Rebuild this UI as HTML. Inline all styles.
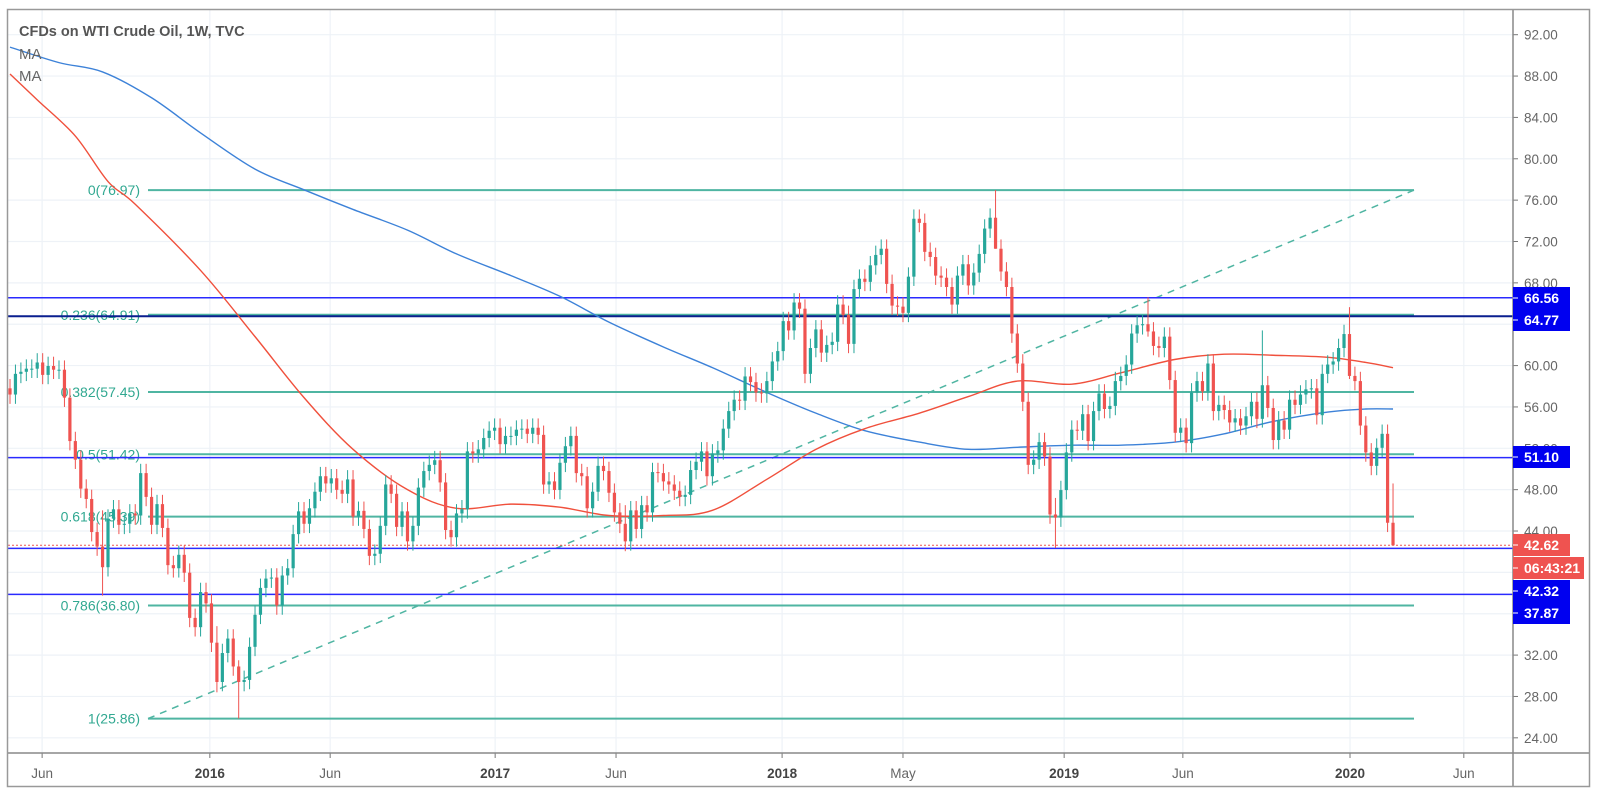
<!DOCTYPE html>
<html><head><meta charset="utf-8"><style>
html,body{margin:0;padding:0;background:#fff;}
svg{display:block;font-family:"Liberation Sans",sans-serif;}
</style></head><body>
<svg id="chart" width="1600" height="802" viewBox="0 0 1600 802">
<rect x="0" y="0" width="1600" height="802" fill="#fff"/>
<g id="grid"></g>
<g id="fib"></g>
<g id="hlines"></g>
<g id="mas"></g>
<g id="candles"></g>
<g id="axes"></g>
<rect x="7.5" y="9.5" width="1582" height="777" fill="none" stroke="#999" stroke-width="1.5"/>
<text x="19" y="36" font-size="14.5" font-weight="bold" fill="#555">CFDs on WTI Crude Oil, 1W, TVC</text>
<text x="19" y="59" font-size="15" fill="#666">MA</text>
<text x="19" y="81" font-size="15" fill="#666">MA</text>
</svg>
<script>
const closes = [57.2,59.2,59.4,59.7,59.7,60.3,59.1,59.96,59.6,59.6,56.9,52.7,50.9,48.1,47.1,43.9,42.5,40.5,45.2,46.1,44.6,44.7,45.7,45.5,49.6,47.3,44.6,46.6,44.3,40.7,40.4,41.7,39.97,35.6,34.7,38.1,
37.0,33.2,29.4,32.2,33.6,30.9,29.4,29.6,32.8,35.9,38.5,39.4,39.5,36.8,39.7,40.4,43.7,45.9,44.7,46.2,47.8,49.3,48.6,49.1,47.98,47.6,48.99,45.4,45.95,44.2,41.6,41.8,44.5,48.5,47.6,44.4,45.9,43.0,44.5,48.2,49.8,50.4,50.85,48.7,44.1,43.4,45.7,46.1,51.7,51.5,51.9,53.0,53.7,
53.99,52.4,53.2,53.2,53.8,53.9,53.4,53.99,53.3,48.5,48.8,47.97,50.6,52.2,53.2,49.6,49.3,46.2,47.8,50.3,49.8,47.7,45.8,44.7,43.0,46.0,44.2,46.5,45.8,49.7,49.6,48.8,48.5,47.9,47.3,47.5,49.9,50.7,51.7,49.3,51.5,51.8,53.9,55.6,56.7,56.6,58.95,58.4,57.4,57.3,58.5,60.4,
61.4,64.3,63.4,66.1,65.5,59.2,61.7,63.5,61.25,62.0,62.3,65.9,64.9,62.1,67.4,68.4,68.1,69.7,70.7,71.3,67.9,65.8,65.7,65.1,68.6,74.2,73.8,71.0,70.5,68.7,68.5,67.6,65.9,68.7,69.8,67.75,68.99,70.8,73.25,74.3,71.3,69.1,67.6,63.1,60.2,56.5,50.4,50.9,52.6,51.2,45.6,45.3,
47.96,51.6,53.8,53.7,55.3,52.7,55.6,57.3,55.8,56.1,58.5,59.0,60.1,63.1,63.9,64.0,63.3,61.9,61.7,62.8,58.6,53.5,54.0,52.5,57.4,58.5,57.5,60.2,55.6,56.2,55.7,54.5,54.9,54.2,55.1,56.5,54.85,58.1,55.9,52.8,54.7,53.8,56.7,56.2,57.2,57.7,57.8,55.2,59.2,60.1,60.4,61.7,
63.05,59.0,58.5,54.2,51.6,50.3,52.05,53.4,44.8,42.62];
const firstOpen = 57.8;
const extremeIdx  = [17, 38, 42, 113, 181, 192, 209, 230, 246, 254];
const extremeHigh = [46.0, 34.8, 31.5, 46.5, 76.97, 47.2, 66.6, 63.4, 65.65, 48.6];
const extremeLow  = [37.75, 28.4, 25.86, 42.05, 73.0, 42.36, 62.8, 54.0, 58.7, 42.62];
const blueWeeks = [0,9,17,26,35,45,54,63,73,82,92,101,110,120,129,139,148,157,167,176,185,195,204,214,223,232,242,249,254];
const blueVals  = [90.8,89.3,88.4,85.9,82.5,79.0,77.0,75.1,73.1,70.8,68.7,66.7,64.2,61.8,59.8,57.4,55.4,53.7,52.6,51.9,52.1,52.3,52.3,52.6,53.4,54.6,55.5,55.8,55.8];
const redWeeks = [0,5,12,18,23,35,45,54,63,73,82,92,101,110,120,129,139,148,157,167,176,185,195,204,214,223,232,242,249,254];
const redVals  = [88.2,85.7,82.2,77.8,75.6,69.2,62.8,56.9,51.9,48.0,46.2,46.6,46.3,45.5,45.5,46.0,49.0,51.9,53.9,55.4,57.0,58.5,58.2,59.3,60.6,61.1,61.0,60.8,60.3,59.8];
const yTicks = [92,88,84,80,76,72,68,64,60,56,52,48,44,40,36,32,28,24];
const xTickLabels = ["Jun","2016","Jun","2017","Jun","2018","May","2019","Jun","2020","Jun"];
const xTickWeeks  = [5.9,36.7,58.8,89.1,111.3,141.8,164,193.6,215.4,246.1,267];
const fibRatios = ["0","0.236","0.382","0.5","0.618","0.786","1"];
const fibVals   = [76.97,64.91,57.45,51.42,45.39,36.80,25.86];
const levelVals = [66.56,64.77,51.10,42.32,37.87];
const lastPrice = 42.62;
const countdown = "06:43:21";

const NS="http://www.w3.org/2000/svg";
const PLOT_L=8, PLOT_R=1513, PLOT_T=10, PLOT_B=753;
function y(v){return 34.7+(92-v)*10.34;}
function x(i){return 10+i*5.445;}
function mk(tag,attrs,parent){const e=document.createElementNS(NS,tag);for(const k in attrs)e.setAttribute(k,attrs[k]);parent.appendChild(e);return e;}
const grid=document.getElementById('grid'),axes=document.getElementById('axes'),fib=document.getElementById('fib'),hl=document.getElementById('hlines'),mas=document.getElementById('mas'),cg=document.getElementById('candles');

yTicks.forEach(v=>{
  const g=mk('line',{x1:PLOT_L,x2:PLOT_R,y1:y(v),y2:y(v),stroke:'#eef2f7','stroke-width':1.2},grid);
  
  
  const t=mk('line',{x1:PLOT_R,x2:PLOT_R+5,y1:y(v),y2:y(v),stroke:'#777'},axes);
  
  
  const l=mk('text',{x:1524,y:y(v)+5,'font-size':13.5,fill:'#666'},axes);
  l.textContent=v.toFixed(2);
  
  
});
xTickWeeks.forEach((w,k)=>{
  const g=mk('line',{x1:x(w),x2:x(w),y1:PLOT_T,y2:PLOT_B,stroke:'#eef2f7','stroke-width':1.2},grid);
  
  
  const t=mk('line',{x1:x(w),x2:x(w),y1:PLOT_B,y2:PLOT_B+5,stroke:'#777'},axes);
  
  
  const isYear=/^\d/.test(xTickLabels[k]);
  const l=mk('text',{x:x(w),y:778,'font-size':13.5,'text-anchor':'middle',fill:isYear?'#444':'#666','font-weight':isYear?'bold':'normal'},axes);
  l.textContent=xTickLabels[k];
  
  
});
let a=mk('line',{x1:PLOT_L,x2:1590,y1:PLOT_B,y2:PLOT_B,stroke:'#888','stroke-width':1.5},axes);


a=mk('line',{x1:PLOT_R,x2:PLOT_R,y1:PLOT_T,y2:787,stroke:'#888','stroke-width':1.5},axes);



// Fibonacci
const FIB_L=148, FIB_R=1414, FIB_C='#4fb5a2';
fibVals.forEach((v,k)=>{
  const ln=mk('line',{x1:FIB_L,x2:FIB_R,y1:y(v),y2:y(v),stroke:FIB_C,'stroke-width':2},fib);
  
  
  const t=mk('text',{x:140,y:y(v)+5,'font-size':14,'text-anchor':'end',fill:'#31a891'},fib);
  t.textContent=fibRatios[k]+'('+v.toFixed(2)+')';
  
  
});
const tl=mk('line',{x1:FIB_L,y1:y(fibVals[6]),x2:FIB_R,y2:y(fibVals[0]),stroke:FIB_C,'stroke-width':1.5,'stroke-dasharray':'7,6'},fib);



// Horizontal levels
levelVals.forEach((v,k)=>{
  const ln=mk('line',{x1:PLOT_L,x2:PLOT_R,y1:y(v),y2:y(v),stroke:k===1?'#0a1f8f':'#2a2aff','stroke-width':k===1?2:1.5},hl);
  
  
});
const pl=mk('line',{x1:PLOT_L,x2:PLOT_R,y1:y(lastPrice),y2:y(lastPrice),stroke:'#ef5350','stroke-width':1,'stroke-dasharray':'2,2'},hl);



// MAs (smoothed Catmull-Rom through sampled values)
function smooth(weeks,vals,color,name){
  const P=weeks.map((w,k)=>[x(w),y(vals[k])]);
  let d='M'+P[0][0]+','+P[0][1];
  for(let k=0;k<P.length-1;k++){
    const p0=P[Math.max(0,k-1)],p1=P[k],p2=P[k+1],p3=P[Math.min(P.length-1,k+2)];
    const c1=[p1[0]+(p2[0]-p0[0])/6,p1[1]+(p2[1]-p0[1])/6];
    const c2=[p2[0]-(p3[0]-p1[0])/6,p2[1]-(p3[1]-p1[1])/6];
    d+=' C'+c1[0]+','+c1[1]+' '+c2[0]+','+c2[1]+' '+p2[0]+','+p2[1];
  }
  const p=mk('path',{d:d,fill:'none',stroke:color,'stroke-width':1.4},mas);
  
  
}
smooth(blueWeeks,blueVals,'#3d82d8','ma-slow-line');
smooth(redWeeks,redVals,'#f0503c','ma-fast-line');

// Candles
closes.forEach((c,i)=>{
  const o=i===0?firstOpen:closes[i-1];
  let h=Math.max(o,c)+0.9, l=Math.min(o,c)-0.9;
  const e=extremeIdx.indexOf(i);
  if(e>=0){h=Math.max(extremeHigh[e],Math.max(o,c));l=Math.min(extremeLow[e],Math.min(o,c));}
  const col=c>=o?'#26a69a':'#ef5350';
  const g=mk('g',{},cg);
  
  
  mk('line',{x1:x(i),x2:x(i),y1:y(h),y2:y(l),stroke:col,'stroke-width':1},g);
  const top=y(Math.max(o,c)),bot=y(Math.min(o,c));
  mk('rect',{x:x(i)-1.6,y:top,width:3.2,height:Math.max(1,bot-top),fill:col},g);
});

// Price labels on axis
function badge(text,yc,color,w,name){
  const g=mk('g',{},axes);
  
  
  mk('rect',{x:PLOT_R,y:yc-11,width:w,height:22,fill:color},g);
  mk('line',{x1:PLOT_R,x2:PLOT_R+5,y1:yc,y2:yc,stroke:'#fff'},g);
  const t=mk('text',{x:PLOT_R+11,y:yc+5,'font-size':14,'font-weight':'bold',fill:'#fff'},g);
  t.textContent=text;
}
badge(levelVals[0].toFixed(2),298,'#0000f0',57,'level-label-66');
badge(levelVals[1].toFixed(2),320,'#0000f0',57,'level-label-64');
badge(levelVals[2].toFixed(2),457,'#0000f0',57,'level-label-51');
badge(lastPrice.toFixed(2),545,'#ef5350',57,'last-price-label');
badge(countdown,568,'#ef5350',71,'countdown-label');
badge(levelVals[3].toFixed(2),591,'#0000f0',57,'level-label-42');
badge(levelVals[4].toFixed(2),613,'#0000f0',57,'level-label-37');
</script>
</body></html>
